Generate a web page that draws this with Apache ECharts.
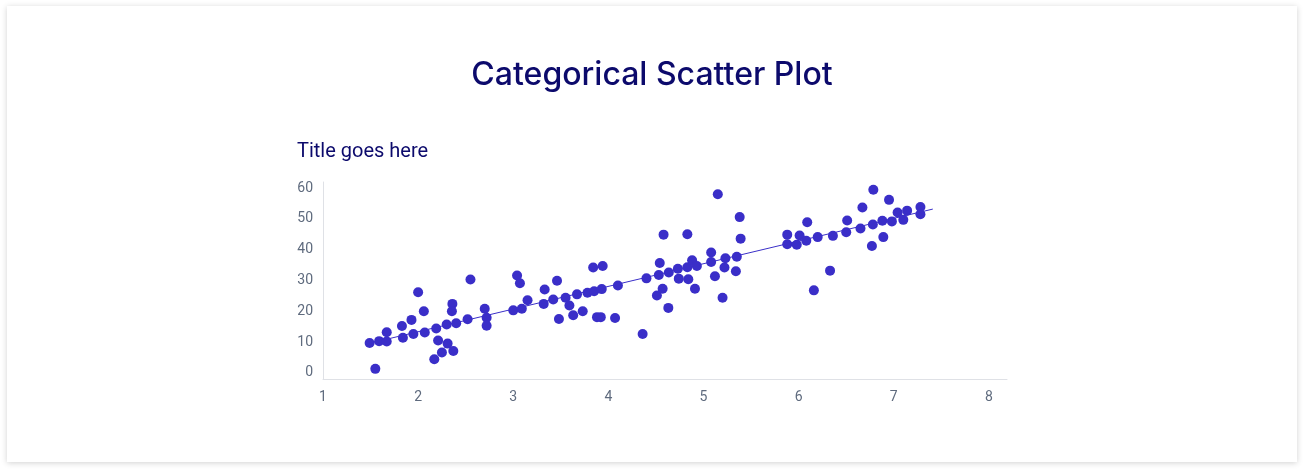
<!DOCTYPE html>
<html>
<head>
<meta charset="utf-8">
<script src="https://cdn.jsdelivr.net/npm/echarts@6/dist/echarts.min.js"></script>
<style>
  html, body { margin: 0; padding: 0; background: #ffffff; }
  #card {
    position: absolute; left: 7px; top: 6px; width: 1290px; height: 456px;
    background: #fff; box-shadow: 0 1px 6px rgba(0, 0, 0, 0.18);
  }
  #chart { width: 100%; height: 100%; }
</style>
</head>
<body>
<div id="card"><div id="chart"></div></div>
<script>
// scatter points
const xValues = [
  1.49, 1.55, 1.59, 1.67, 1.67, 1.83, 1.84, 1.93, 1.95, 2.00,
  2.06, 2.07, 2.17, 2.19, 2.21, 2.25, 2.30, 2.31, 2.36, 2.355,
  2.37, 2.40, 2.52, 2.55, 2.70, 2.72, 2.72, 3.00, 3.04, 3.07,
  3.09, 3.15, 3.32, 3.33, 3.42, 3.46, 3.48, 3.55, 3.59, 3.63,
  3.67, 3.73, 3.78, 3.84, 3.85, 3.88, 3.92, 3.93, 3.94, 4.07,
  4.10, 4.36, 4.40, 4.51, 4.53, 4.54, 4.57, 4.58, 4.63, 4.635,
  4.73, 4.74, 4.83, 4.83, 4.84, 4.88, 4.91, 4.93, 5.08, 5.08,
  5.12, 5.15, 5.20, 5.23, 5.22, 5.34, 5.35, 5.38, 5.39, 5.88,
  5.88, 5.98, 6.01, 6.08, 6.09, 6.16, 6.20, 6.33, 6.36, 6.50,
  6.51, 6.65, 6.67, 6.77, 6.78, 6.785, 6.88, 6.89, 6.95, 6.98,
  7.04, 7.10, 7.14, 7.28, 7.28
];
const yValues = [
  9.7, 1.3, 10.3, 13.2, 10.2, 15.2, 11.4, 17.2, 12.6, 26.2,
  20.0, 13.1, 4.4, 14.4, 10.5, 6.6, 15.7, 9.5, 22.4, 20.0,
  7.1, 16.1, 17.4, 30.3, 20.8, 17.9, 15.3, 20.3, 31.6, 29.1,
  20.8, 23.6, 22.4, 27.1, 23.8, 29.9, 17.5, 24.4, 21.9, 18.7,
  25.5, 20.0, 26.0, 34.2, 26.5, 18.1, 18.1, 27.2, 34.7, 17.8,
  28.4, 12.6, 30.7, 25.1, 31.8, 35.7, 27.3, 44.9, 21.1, 32.6,
  33.8, 30.6, 45.0, 34.3, 30.4, 36.6, 27.3, 34.7, 39.1, 36.0,
  31.4, 58.0, 24.4, 37.2, 34.2, 33.0, 37.7, 50.6, 43.6, 44.9,
  41.8, 41.6, 44.6, 42.9, 48.9, 26.8, 44.1, 33.2, 44.5, 45.7,
  49.5, 46.9, 53.7, 41.2, 48.2, 59.5, 49.4, 44.1, 56.2, 49.2,
  52.1, 49.7, 52.7, 53.9, 51.5
];
// fitted line end points
const trendX = [1.49, 7.41];
const trendY = [9.6, 53.2];

const xTicks = [1, 2, 3, 4, 5, 6, 7, 8];
const yTicks = [0, 10, 20, 30, 40, 50, 60];

const points = xValues.map((x, i) => [x, yValues[i]]);
const trend = trendX.map((x, i) => [x, trendY[i]]);

let myChart = echarts.init(document.getElementById('chart'));

myChart.setOption({
  animation: false,
  textStyle: { fontFamily: 'Roboto' },
  title: [
    {
      text: 'Categorical Scatter Plot',
      left: 'center', top: 48,
      textStyle: { fontSize: 32, fontWeight: 500, color: '#0c0a6c', fontFamily: 'Inter' }
    },
    {
      text: 'Title goes here',
      left: 285, top: 131,
      textStyle: { fontSize: 20, fontWeight: 'normal', color: '#0c0a6c', fontFamily: 'Roboto' }
    }
  ],
  grid: { left: 316, top: 176, right: 290, bottom: 83 },
  xAxis: {
    type: 'value', min: 1, max: 8.19,
    splitLine: { show: false },
    axisLine: { show: true, onZero: false, lineStyle: { color: '#dfe1e6', width: 1 } },
    axisTick: { show: false },
    axisLabel: { customValues: xTicks, color: '#5f6b7e', fontSize: 14, margin: 11 }
  },
  yAxis: {
    type: 'value', min: -2, max: 62,
    splitLine: { show: false },
    axisLine: { show: true, onZero: false, lineStyle: { color: '#dfe1e6', width: 1 } },
    axisTick: { show: false },
    axisLabel: { customValues: yTicks, color: '#5f6b7e', fontSize: 14, margin: 10 }
  },
  series: [
    {
      type: 'line',
      data: trend,
      symbol: 'none',
      lineStyle: { color: '#3a2fc8', width: 1 },
      z: 1
    },
    {
      type: 'scatter',
      data: points,
      symbolSize: 10,
      itemStyle: { color: '#3a2ec8', opacity: 1 },
      z: 2
    }
  ]
});
</script>
</body>
</html>
